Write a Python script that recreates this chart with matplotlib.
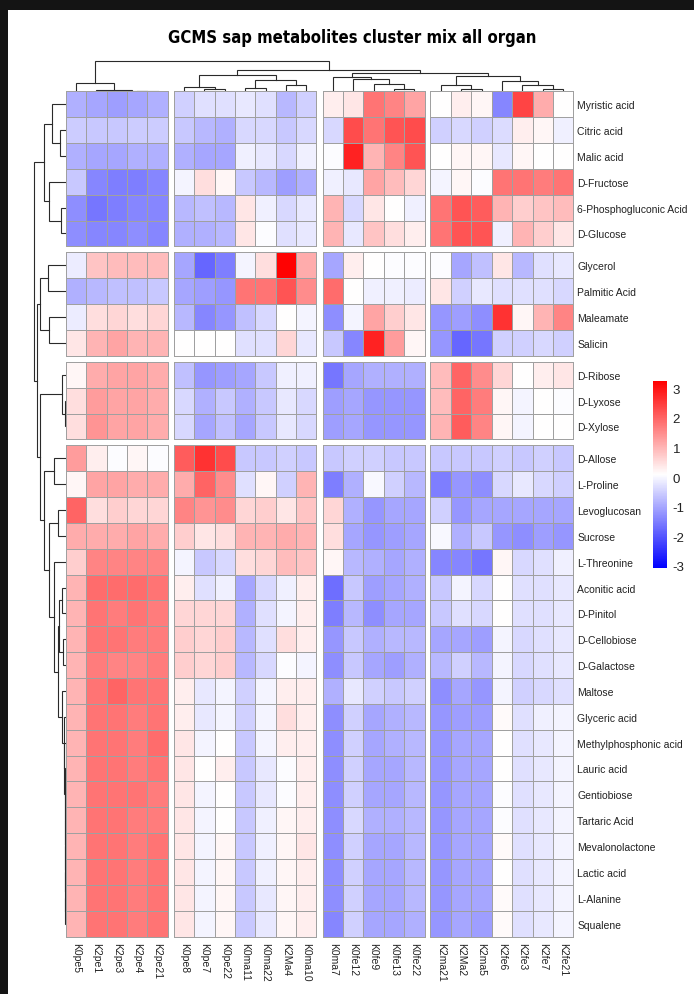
import matplotlib
matplotlib.use("Agg")
import matplotlib.pyplot as plt
import numpy as np
from matplotlib.colors import LinearSegmentedColormap
from matplotlib.patches import Rectangle
from matplotlib.cm import ScalarMappable
from matplotlib.colors import Normalize

title = "GCMS sap metabolites cluster mix all organ"

samples = ["K0pe5", "K2pe1", "K2pe3", "K2pe4", "K2pe21",
           "K0pe8", "K0pe7", "K0pe22", "K0ma11", "K0ma22", "K2Ma4", "K0ma10",
           "K0ma7", "K0fe12", "K0fe9", "K0fe13", "K0fe22",
           "K2ma21", "K2Ma2", "K2ma5", "K2fe6", "K2fe3", "K2fe7", "K2fe21"]
col_groups = [5, 7, 5, 7]

metabolites = ["Myristic acid", "Citric acid", "Malic acid", "D-Fructose",
               "6-Phosphogluconic Acid", "D-Glucose",
               "Glycerol", "Palmitic Acid", "Maleamate", "Salicin",
               "D-Ribose", "D-Lyxose", "D-Xylose",
               "D-Allose", "L-Proline", "Levoglucosan", "Sucrose", "L-Threonine",
               "Aconitic acid", "D-Pinitol", "D-Cellobiose", "D-Galactose",
               "Maltose", "Glyceric acid", "Methylphosphonic acid", "Lauric acid",
               "Gentiobiose", "Tartaric Acid", "Mevalonolactone", "Lactic acid",
               "L-Alanine", "Squalene"]
row_groups = [6, 4, 3, 19]

# row z-scores, one cluster of rows per array, columns in sample order
cluster1_values = [
    [-0.9, -1.0, -1.1, -1.0, -0.9, -0.5, -0.3, -0.3, -0.2, -0.3, -0.8, -0.5, 0.3, 0.4, 1.8, 1.6, 1.2, 0.1, 0.3, 0.2, -1.4, 2.4, 1.1, 0.1],
    [-0.55, -0.6, -0.6, -0.55, -0.55, -0.6, -0.8, -0.9, -0.4, -0.4, -0.6, -0.4, -0.4, 2.3, 1.8, 2.2, 2.3, -0.5, -0.4, -0.5, -0.35, 0.3, 0.2, -0.1],
    [-0.9, -1.0, -1.0, -0.9, -0.9, -0.9, -1.0, -1.0, -0.1, -0.2, -0.4, -0.1, 0.05, 2.8, 1.0, 1.6, 2.2, 0.1, 0.2, 0.2, -0.2, 0.2, 0.1, 0.1],
    [-0.6, -1.4, -1.5, -1.5, -1.4, -0.05, 0.5, 0.2, -0.6, -0.8, -1.1, -0.9, -0.1, -0.2, 1.2, 0.9, 0.6, -0.05, 0.2, 0.05, 1.8, 1.8, 1.7, 1.8],
    [-1.3, -1.6, -1.5, -1.4, -1.4, -0.8, -0.7, -0.8, 0.4, -0.1, -0.4, -0.2, 1.0, -0.4, 0.4, 0.1, -0.1, 1.8, 2.2, 2.1, 1.0, 0.7, 0.8, 0.9],
    [-1.3, -1.4, -1.4, -1.3, -1.4, -0.9, -0.9, -0.8, 0.4, 0.05, -0.3, -0.2, 1.0, -0.2, 0.8, 0.5, 0.3, 1.8, 2.2, 2.2, -0.1, 1.0, 0.7, 0.4],
]
cluster2_values = [
    [-0.15, 0.8, 0.9, 0.9, 0.9, -1.0, -1.8, -1.5, -0.05, 0.5, 3.2, 1.1, -1.0, 0.3, 0.1, 0.05, 0.05, 0.05, -1.0, -0.7, 0.4, -0.8, -0.3, -0.2],
    [-0.9, -0.8, -0.7, -0.7, -0.6, -1.0, -1.1, -1.2, 1.8, 1.8, 2.2, 1.5, 1.9, 0.1, -0.1, -0.1, -0.15, 0.4, -0.5, -0.2, -0.3, -0.3, -0.3, -0.4],
    [-0.15, 0.5, 0.6, 0.5, 0.6, -0.8, -1.4, -1.2, -0.7, -0.4, 0.1, -0.05, -1.3, -0.05, 1.2, 0.7, 0.4, -1.2, -1.1, -1.3, 2.6, 0.2, 1.0, 1.6],
    [0.4, 1.0, 1.2, 1.0, 1.0, 0.1, 0.1, 0.1, -0.3, -0.3, 0.6, -0.2, -0.6, -1.4, 2.8, 1.3, 0.2, -1.2, -1.8, -1.6, -0.5, -0.5, -0.4, -0.5],
]
cluster3_values = [
    [0.2, 1.1, 1.2, 1.2, 1.1, -0.7, -1.2, -1.1, -1.0, -0.6, -0.1, -0.1, -1.6, -1.0, -0.9, -0.9, -0.9, 0.9, 2.0, 1.5, 0.6, 0.1, 0.3, 0.4],
    [0.5, 1.3, 1.2, 1.2, 1.1, -0.4, -0.9, -0.6, -0.9, -0.6, -0.2, -0.4, -1.1, -1.0, -1.2, -1.2, -1.2, 0.9, 2.0, 1.7, 0.2, -0.05, 0.1, 0.05],
    [0.5, 1.4, 1.2, 1.2, 1.1, -0.4, -1.0, -0.7, -1.0, -0.6, -0.2, -0.4, -1.1, -1.0, -1.2, -1.2, -1.2, 1.0, 2.1, 1.6, 0.2, -0.05, 0.1, 0.1],
]
cluster4_values = [
    [1.3, 0.3, 0.05, 0.2, 0.05, 2.1, 2.6, 2.3, -0.6, -0.6, -0.5, -0.6, -0.6, -0.5, -0.5, -0.6, -0.6, -0.6, -0.6, -0.6, -0.5, -0.6, -0.5, -0.6],
    [0.2, 1.2, 1.2, 1.1, 1.1, 1.1, 2.0, 1.5, -0.3, 0.2, -0.5, 1.0, -1.5, -0.9, 0.0, -0.5, -0.8, -1.5, -1.2, -1.3, -0.4, -0.2, -0.4, -0.5],
    [2.0, 0.5, 0.7, 0.6, 0.6, 1.6, 1.4, 1.5, 0.6, 0.7, 0.4, 0.8, 0.6, -0.9, -1.2, -1.0, -1.0, -0.5, -1.2, -1.0, -1.0, -1.0, -1.0, -1.0],
    [1.1, 1.1, 1.1, 1.2, 1.1, 0.7, 0.4, 0.5, 1.0, 1.0, 1.1, 1.0, 0.5, -1.0, -1.2, -1.1, -1.0, 0.0, -0.9, -0.6, -1.2, -1.3, -1.1, -1.2],
    [0.7, 1.6, 1.6, 1.6, 1.6, -0.05, -0.6, -0.4, 0.5, 0.6, 0.9, 0.8, 0.2, -0.8, -0.9, -1.0, -0.9, -1.4, -1.4, -1.6, 0.2, -0.4, -0.3, -0.1],
    [1.0, 1.9, 1.9, 1.9, 1.8, 0.3, -0.3, -0.1, -1.0, -0.4, -0.1, 0.3, -1.7, -0.6, -1.1, -1.0, -0.9, -0.6, -0.05, -0.4, 0.1, -0.3, -0.3, -0.2],
    [1.0, 1.8, 1.7, 1.8, 1.7, 0.6, 0.6, 0.6, -0.9, -0.3, -0.05, 0.3, -1.5, -0.8, -1.3, -1.0, -1.0, -0.6, -0.3, -0.4, 0.1, -0.3, -0.3, -0.2],
    [1.0, 1.8, 1.8, 1.7, 1.7, 0.7, 0.6, 0.7, -0.8, -0.3, 0.5, 0.3, -1.2, -0.6, -0.9, -0.8, -0.8, -1.0, -1.0, -1.1, -0.05, -0.4, -0.3, -0.2],
    [1.0, 1.7, 1.6, 1.6, 1.7, 0.7, 0.6, 0.7, -0.8, -0.4, 0.05, -0.05, -1.3, -0.6, -1.0, -1.1, -0.9, -0.8, -0.5, -0.8, -0.05, -0.4, -0.3, -0.2],
    [1.0, 1.8, 2.0, 1.8, 1.8, 0.3, -0.2, -0.05, -0.5, -0.05, 0.3, 0.3, -0.9, -0.2, -0.5, -0.6, -0.5, -1.3, -1.0, -1.2, -0.05, -0.5, -0.4, -0.3],
    [1.0, 1.8, 1.8, 1.7, 1.8, 0.3, -0.2, -0.05, -0.5, -0.05, 0.5, 0.3, -1.3, -0.5, -1.0, -0.9, -0.8, -1.2, -1.1, -1.1, 0.15, -0.3, -0.1, -0.05],
    [1.0, 1.8, 1.8, 1.7, 1.9, 0.4, -0.05, 0.1, -0.6, -0.05, 0.3, 0.3, -1.3, -0.5, -1.0, -0.9, -0.8, -1.2, -1.0, -1.0, 0.1, -0.3, -0.2, -0.05],
    [1.0, 1.8, 1.8, 1.7, 1.8, 0.4, 0.1, 0.3, -0.6, -0.2, 0.05, 0.3, -1.3, -0.5, -1.0, -1.0, -0.8, -1.2, -1.0, -1.0, 0.1, -0.3, -0.2, -0.05],
    [1.0, 1.8, 1.8, 1.8, 1.7, 0.4, -0.05, 0.1, -0.6, -0.2, 0.05, 0.3, -1.3, -0.5, -1.0, -1.0, -0.8, -1.2, -1.0, -1.0, 0.05, -0.3, -0.2, -0.05],
    [1.0, 1.8, 1.8, 1.7, 1.7, 0.4, -0.05, 0.1, -0.6, -0.1, 0.2, 0.3, -1.3, -0.4, -0.9, -0.9, -0.8, -1.2, -1.0, -1.0, 0.05, -0.3, -0.2, -0.05],
    [1.0, 1.8, 1.8, 1.7, 1.8, 0.4, -0.05, 0.2, -0.6, -0.1, 0.2, 0.4, -1.3, -0.5, -1.0, -1.0, -0.8, -1.2, -1.0, -1.0, 0.15, -0.3, -0.2, -0.05],
    [1.0, 1.8, 1.8, 1.7, 1.8, 0.4, -0.05, 0.2, -0.6, -0.1, 0.2, 0.3, -1.3, -0.5, -1.0, -1.0, -0.8, -1.2, -1.0, -1.0, 0.1, -0.3, -0.2, -0.05],
    [1.0, 1.8, 1.8, 1.7, 1.8, 0.4, -0.05, 0.2, -0.6, -0.2, 0.2, 0.3, -1.3, -0.5, -1.0, -1.0, -0.8, -1.2, -1.0, -1.0, 0.15, -0.3, -0.2, -0.05],
    [1.0, 1.8, 1.8, 1.7, 1.8, 0.4, -0.05, 0.2, -0.6, -0.2, 0.2, 0.3, -1.4, -0.5, -1.0, -1.0, -0.9, -1.2, -1.0, -1.1, 0.15, -0.3, -0.2, -0.05],
]

# dendrogram merges (left, right, height); new node ids follow the leaves
col_links = [
    (3, 4, 0.3), (2, 24, 0.6), (1, 25, 1.3), (0, 26, 8.7),
    (6, 7, 2.3), (5, 28, 4.7), (8, 9, 3.7), (10, 11, 6.0), (30, 31, 11.0),
    (29, 32, 16.3), (15, 16, 2.7), (14, 34, 7.0), (13, 35, 12.0),
    (12, 36, 14.3), (18, 19, 2.0), (17, 38, 6.0), (22, 23, 2.7),
    (21, 40, 6.0), (20, 41, 10.3), (39, 42, 15.3), (37, 43, 18.7),
    (33, 44, 21.0), (27, 45, 30.3),
]
row_links = [
    (1, 2, 5.8), (0, 32, 13.8), (4, 5, 4.5), (3, 34, 17.2), (33, 35, 22.2),
    (6, 7, 17.5), (8, 9, 16.8), (37, 38, 25.5),
    (11, 12, 0.6), (10, 40, 3.8),
    (13, 14, 12.2), (15, 16, 8.2),
    (30, 31, 0.3), (29, 44, 0.5), (28, 45, 0.6), (27, 46, 0.8), (26, 47, 1.0),
    (25, 48, 1.2), (24, 49, 1.4), (23, 50, 1.8), (22, 51, 4.2),
    (18, 19, 4.0), (20, 21, 2.5), (53, 54, 6.5), (55, 52, 7.8),
    (17, 56, 11.5), (43, 57, 16.5), (42, 58, 22.2),
    (41, 59, 25.5), (39, 60, 28.8), (36, 61, 32.2),
]

data = np.array(cluster1_values + cluster2_values + cluster3_values + cluster4_values)

# layout in pixels
W, H = 694, 995
x0, cw, y0, rh, gap = 65.7, 20.4, 92.3, 25.85, 6.0


def spans(groups, start, size):
    out = []
    pos = start
    first = 0
    for n in groups:
        out.append((first, n, pos))
        pos += n * size + gap
        first += n
    return out


col_spans = spans(col_groups, x0, cw)
row_spans = spans(row_groups, y0, rh)
x_end = col_spans[-1][2] + col_groups[-1] * cw
y_end = row_spans[-1][2] + row_groups[-1] * rh

col_centers = [p + (i + 0.5) * cw for f, n, p in col_spans for i in range(n)]
row_centers = [p + (i + 0.5) * rh for f, n, p in row_spans for i in range(n)]


def fig_rect(left, top, width, height):
    return [left / W, 1 - (top + height) / H, width / W, height / H]


cmap = LinearSegmentedColormap.from_list("bwr_ph", ["#0000FF", "#FFFFFF", "#FF0000"])
vmin, vmax = -3.07, 3.24
grid = "#a0a0a0"
label_font = ["Liberation Sans", "DejaVu Sans"]

fig = plt.figure(figsize=(W / 100, H / 100), dpi=100, facecolor="#141414")
fig.add_artist(Rectangle((8 / W, 0), 1, 1 - 11 / H, transform=fig.transFigure,
                         facecolor="white", edgecolor="none", zorder=-10))

# heatmap blocks
for gi, (r0, nr, ry) in enumerate(row_spans):
    for gj, (c0, nc, cx) in enumerate(col_spans):
        ax = fig.add_axes(fig_rect(cx, ry, nc * cw, nr * rh))
        block = data[r0:r0 + nr, c0:c0 + nc]
        mesh = ax.pcolormesh(block, cmap=cmap, vmin=vmin, vmax=vmax,
                             edgecolors=grid, linewidth=0.45)
        mesh.set_clip_on(False)
        ax.set_xlim(0, nc)
        ax.set_ylim(nr, 0)
        for s in ax.spines.values():
            s.set_visible(False)
        ax.set_xticks([])
        ax.set_yticks([])
        if gj == len(col_spans) - 1:
            ax.yaxis.tick_right()
            ax.set_yticks(np.arange(nr) + 0.5, metabolites[r0:r0 + nr],
                          fontsize=7.5, family=label_font, color="#222222")
            ax.tick_params(axis="y", length=0, pad=3)
        if gi == len(row_spans) - 1:
            ax.set_xticks(np.arange(nc) + 0.5, samples[c0:c0 + nc], rotation=270,
                          fontsize=7.5, family=label_font, color="#222222")
            ax.tick_params(axis="x", length=0, pad=4)


def draw_tree(ax, links, leaf_pos, side):
    pos = list(leaf_pos)
    hgt = [0.0] * len(leaf_pos)
    for a, b, h in links:
        xs = [pos[a], pos[a], pos[b], pos[b]]
        hs = [hgt[a], h, h, hgt[b]]
        if side == "top":
            ax.plot(xs, hs, color="#2a2a2a", lw=0.8, solid_joinstyle="miter")
        else:
            ax.plot(hs, xs, color="#2a2a2a", lw=0.8, solid_joinstyle="miter")
        pos.append((pos[a] + pos[b]) / 2)
        hgt.append(h)


# column dendrogram
cax_tree = fig.add_axes(fig_rect(x0, 58, x_end - x0, y0 - 58))
draw_tree(cax_tree, col_links, col_centers, "top")
cax_tree.set_xlim(x0, x_end)
cax_tree.set_ylim(0, y0 - 58)
cax_tree.axis("off")

# row dendrogram
rax_tree = fig.add_axes(fig_rect(x0 - 35, y0, 35, y_end - y0))
draw_tree(rax_tree, row_links, row_centers, "left")
rax_tree.set_xlim(35, 0)
rax_tree.set_ylim(y_end, y0)
rax_tree.axis("off")

# colour legend
cbar_ax = fig.add_axes(fig_rect(653, 382, 14, 187))
sm = ScalarMappable(norm=Normalize(vmin=vmin, vmax=vmax), cmap=cmap)
cb = fig.colorbar(sm, cax=cbar_ax, ticks=[-3, -2, -1, 0, 1, 2, 3])
cb.outline.set_visible(False)
cb.ax.set_yticklabels(["-3", "-2", "-1", "0", "1", "2", "3"], family=label_font,
                      fontsize=9.5, color="#222222")
cb.ax.tick_params(length=0, pad=4)

fig.text(352 / W, 1 - 38 / H, title, ha="center", va="center", fontsize=12,
         fontweight="bold", fontstretch="condensed", family=["DejaVu Sans"])

fig.savefig("out.png", dpi=100, facecolor=fig.get_facecolor())
